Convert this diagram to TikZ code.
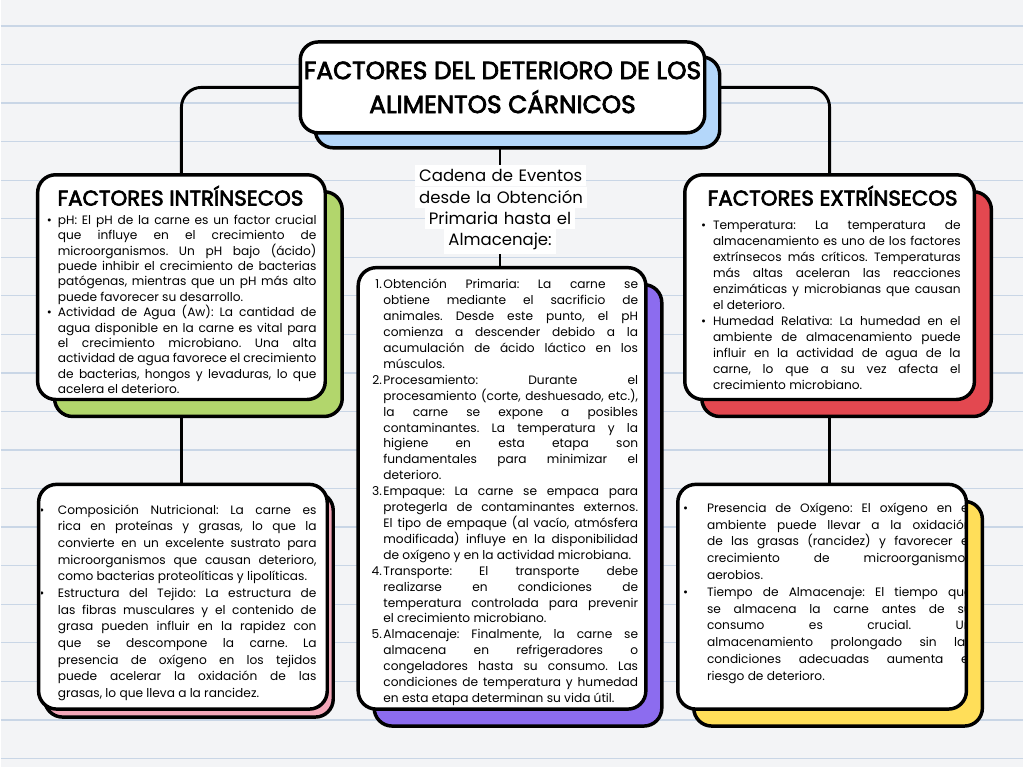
\documentclass[tikz,border=0pt]{standalone}
\usepackage{fontspec}
\setmainfont{Poppins}
\newfontfamily\headfont{Poppins}[FakeBold=3]
\usepackage{enumitem}
\usetikzlibrary{shadows}
\definecolor{paper}{HTML}{F3F4F6}
\definecolor{ruling}{HTML}{C9D6E6}
\definecolor{titleblue}{HTML}{B4D7FA}
\definecolor{intrgreen}{HTML}{B2D66C}
\definecolor{extrred}{HTML}{E34850}
\definecolor{chainpurple}{HTML}{8C6CEF}
\definecolor{comppink}{HTML}{F4A7B9}
\definecolor{oxyellow}{HTML}{FFDE59}
\newlength\px
\setlength\px{0.75pt}
\hyphenpenalty=10000
\exhyphenpenalty=10000
\frenchspacing
\setlength\fboxsep{3pt}
\lineskiplimit=-20pt
\setlist{nosep}
\pgfdeclarelayer{paperlayer}
\pgfdeclarelayer{linklayer}
\pgfsetlayers{paperlayer,linklayer,main}

\tikzset{
  card/.style={draw, line width=2.6pt, fill=white, rounded corners=18\px,
    inner sep=0pt, outer sep=0pt},
  lift/.style n args={3}{general shadow={fill=#1, draw=black, line width=2.6pt,
    shadow xshift=#2\px, shadow yshift=-#3\px}},
  body/.style={anchor=north west, inner sep=0pt, align=justify,
    font=\fontsize{9.15}{#1}\selectfont},
  body/.default=12,
  heading/.style={inner sep=0pt, font=\headfont\fontsize{16}{18}\selectfont},
  link/.style={draw, line width=2.2pt, rounded corners=20\px},
}

\begin{document}
\begin{tikzpicture}[x=0.75pt, y=-0.75pt]
  % paper
  \begin{pgfonlayer}{paperlayer}
    \fill[paper] (0,0) rectangle (1024,768);
    \foreach \k in {0,...,19}
      \draw[ruling, line width=1pt] (0,{26+38.6*\k}) -- (1024,{26+38.6*\k});
  \end{pgfonlayer}
  \useasboundingbox (0,0) rectangle (1024,768);

  % title
  \node[card, lift={titleblue}{15}{15}, minimum width=405\px, minimum height=91\px,
    align=center, font=\headfont\fontsize{18.6}{25.5}\selectfont] (title) at (502.5,87.5)
    {FACTORES DEL DETERIORO DE LOS\\ALIMENTOS CÁRNICOS};

  % chain label
  \node[inner sep=0pt, text width=170\px, align=center,
    font=\fontsize{12.4}{15.75}\selectfont] (chain) at (500,210)
    {\colorbox{white}{Cadena de Eventos}\\ \colorbox{white}{desde la Obtención}\\
     \colorbox{white}{Primaria hasta el}\\ \colorbox{white}{Almacenaje:}};

  % intrinsic factors
  \node[card, lift={intrgreen}{17}{17}, minimum width=288\px, minimum height=225\px] (intr) at (181,287.5) {};
  \node[heading] (intrhead) at (180,196) {FACTORES INTRÍNSECOS};
  \node[body=11.55, text width=271\px] (intrtxt) at (45,209) {%
    \begin{itemize}[leftmargin=12\px, labelsep=6\px]
      \item pH: El pH de la carne es un factor crucial\linebreak
        que influye en el crecimiento de\linebreak
        microorganismos. Un pH bajo (ácido)\linebreak
        puede inhibir el crecimiento de bacterias\linebreak
        patógenas, mientras que un pH más alto\linebreak
        puede favorecer su desarrollo.
      \item Actividad de Agua (Aw): La cantidad de\linebreak
        agua disponible en la carne es vital para\linebreak
        el crecimiento microbiano. Una alta\linebreak
        actividad de agua favorece el crecimiento\linebreak
        de bacterias, hongos y levaduras, lo que\linebreak
        acelera el deterioro.
    \end{itemize}};

  % extrinsic factors
  \node[card, lift={extrred}{17}{17}, minimum width=290\px, minimum height=225\px] (extr) at (830,287.5) {};
  \node[heading] (extrhead) at (833,196) {FACTORES EXTRÍNSECOS};
  \node[body=12, text width=261\px] (extrtxt) at (700,214) {%
    \begin{itemize}[leftmargin=13\px, labelsep=7\px]
      \item Temperatura: La temperatura de\linebreak
        almacenamiento es uno de los factores\linebreak
        extrínsecos más críticos. Temperaturas\linebreak
        más altas aceleran las reacciones\linebreak
        enzimáticas y microbianas que causan\linebreak
        el deterioro.
      \item Humedad Relativa: La humedad en el\linebreak
        ambiente de almacenamiento puede\linebreak
        influir en la actividad de agua de la\linebreak
        carne, lo que a su vez afecta el\linebreak
        crecimiento microbiano.
    \end{itemize}};

  % chain of events
  \node[card, lift={chainpurple}{16}{17}, minimum width=288\px, minimum height=442\px] (chainbox) at (502,489) {};
  \node[body=11.95, text width=268\px] (chaintxt) at (370,273) {%
    \begin{enumerate}[label=\arabic*., leftmargin=13\px, labelsep=1.5\px, labelwidth=11\px]
      \item Obtención Primaria: La carne se\linebreak
        obtiene mediante el sacrificio de\linebreak
        animales. Desde este punto, el pH\linebreak
        comienza a descender debido a la\linebreak
        acumulación de ácido láctico en los\linebreak
        músculos.
      \item Procesamiento: Durante el\linebreak
        procesamiento (corte, deshuesado, etc.),\linebreak
        la carne se expone a posibles\linebreak
        contaminantes. La temperatura y la\linebreak
        higiene en esta etapa son\linebreak
        fundamentales para minimizar el\linebreak
        deterioro.
      \item Empaque: La carne se empaca para\linebreak
        protegerla de contaminantes externos.\linebreak
        El tipo de empaque (al vacío, atmósfera\linebreak
        modificada) influye en la disponibilidad\linebreak
        de oxígeno y en la actividad microbiana.
      \item Transporte: El transporte debe\linebreak
        realizarse en condiciones de\linebreak
        temperatura controlada para prevenir\linebreak
        el crecimiento microbiano.
      \item Almacenaje: Finalmente, la carne se\linebreak
        almacena en refrigeradores o\linebreak
        congeladores hasta su consumo. Las\linebreak
        condiciones de temperatura y humedad\linebreak
        en esta etapa determinan su vida útil.
    \end{enumerate}};

  % composition and tissue
  \node[card, lift={comppink}{6}{8}, minimum width=289\px, minimum height=225\px] (comp) at (182.5,597.5) {};
  \begin{scope}
    \clip[rounded corners=17\px] ([shift={(1.7,1.7)}]comp.north west) rectangle ([shift={(-1.7,-1.7)}]comp.south east);
    \node[body=12.5, text width=281\px] (comptxt) at (35,498) {%
      \begin{itemize}[leftmargin=22\px, labelsep=13.5\px]
        \item Composición Nutricional: La carne es\linebreak
          rica en proteínas y grasas, lo que la\linebreak
          convierte en un excelente sustrato para\linebreak
          microorganismos que causan deterioro,\linebreak
          como bacterias proteolíticas y lipolíticas.
        \item Estructura del Tejido: La estructura de\linebreak
          las fibras musculares y el contenido de\linebreak
          grasa pueden influir en la rapidez con\linebreak
          que se descompone la carne. La\linebreak
          presencia de oxígeno en los tejidos\linebreak
          puede acelerar la oxidación de las\linebreak
          grasas, lo que lleva a la rancidez.
      \end{itemize}};
  \end{scope}

  % oxygen and storage time
  \node[card, lift={oxyellow}{16}{17}, minimum width=289\px, minimum height=225\px] (oxy) at (822.5,597.5) {};
  \begin{scope}
    \clip[rounded corners=17\px] ([shift={(1.7,1.7)}]oxy.north west) rectangle ([shift={(-1.7,-1.7)}]oxy.south east);
    \node[body=12.6, text width=289\px] (oxytxt) at (683,496) {%
      \begin{itemize}[leftmargin=24\px, labelsep=19\px]
        \item Presencia de Oxígeno: El oxígeno en el\linebreak
          ambiente puede llevar a la oxidación\linebreak
          de las grasas (rancidez) y favorecer el\linebreak
          crecimiento de microorganismos\linebreak
          aerobios.
        \item Tiempo de Almacenaje: El tiempo que\linebreak
          se almacena la carne antes de su\linebreak
          consumo es crucial. Un\linebreak
          almacenamiento prolongado sin las\linebreak
          condiciones adecuadas aumenta el\linebreak
          riesgo de deterioro.
      \end{itemize}};
  \end{scope}

  % links
  \begin{pgfonlayer}{linklayer}
    \draw[link] (title.west) -| (intr.north);
    \draw[link] (title.east) -| (extr.north);
    \draw[link] (chain.north |- title.south) -- (chain.north);
    \draw[link] (chain.south) -- (chain.south |- chainbox.north);
    \draw[link] (intr.south) -- (intr.south |- comp.north);
    \draw[link] (extr.south) -- (extr.south |- oxy.north);
  \end{pgfonlayer}
\end{tikzpicture}
\end{document}
